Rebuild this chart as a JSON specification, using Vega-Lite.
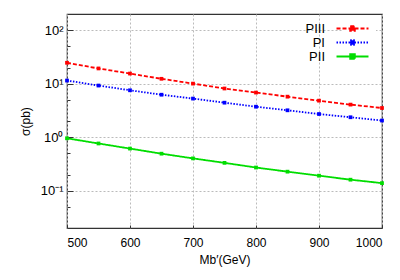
{
  "$schema": "https://vega.github.io/schema/vega-lite/v6.json",
  "autosize": "none",
  "width": 315,
  "height": 214,
  "padding": {"left": 67, "top": 14, "right": 18, "bottom": 52},
  "background": "white",
  "config": {
    "font": "Liberation Sans",
    "view": {"stroke": "#333333", "strokeWidth": 1.2},
    "axis": {"labelFont": "Liberation Sans", "titleFont": "Liberation Sans", "labelColor": "#000", "titleColor": "#000", "labelFontSize": 12, "titleFontSize": 12, "titleFontWeight": "normal", "domain": false},
    "legend": {"orient": "none", "legendX": 276, "legendY": 5, "symbolType": "M-5.33,0H5.33M-0.75,-0.75H0.75V0.75H-0.75Z", "symbolSize": 36, "symbolStrokeWidth": 2, "labelFontSize": 13, "labelAlign": "right", "labelOffset": -34, "rowPadding": -1, "labelFont": "Liberation Sans", "labelColor": "#000", "fillColor": "white", "padding": 3}
  },
  "data": {"values": [
    {"m": 500, "s": "PIII", "v": 24.5}, {"m": 550, "s": "PIII", "v": 19.2}, {"m": 600, "s": "PIII", "v": 15.4}, {"m": 650, "s": "PIII", "v": 12.3}, {"m": 700, "s": "PIII", "v": 10.0}, {"m": 750, "s": "PIII", "v": 8.1}, {"m": 800, "s": "PIII", "v": 6.8}, {"m": 850, "s": "PIII", "v": 5.7}, {"m": 900, "s": "PIII", "v": 4.8}, {"m": 950, "s": "PIII", "v": 4.05}, {"m": 1000, "s": "PIII", "v": 3.5},
    {"m": 500, "s": "PI", "v": 11.4}, {"m": 550, "s": "PI", "v": 9.2}, {"m": 600, "s": "PI", "v": 7.5}, {"m": 650, "s": "PI", "v": 6.2}, {"m": 700, "s": "PI", "v": 5.25}, {"m": 750, "s": "PI", "v": 4.4}, {"m": 800, "s": "PI", "v": 3.7}, {"m": 850, "s": "PI", "v": 3.17}, {"m": 900, "s": "PI", "v": 2.7}, {"m": 950, "s": "PI", "v": 2.35}, {"m": 1000, "s": "PI", "v": 2.04},
    {"m": 500, "s": "PII", "v": 0.95}, {"m": 550, "s": "PII", "v": 0.76}, {"m": 600, "s": "PII", "v": 0.61}, {"m": 650, "s": "PII", "v": 0.49}, {"m": 700, "s": "PII", "v": 0.40}, {"m": 750, "s": "PII", "v": 0.33}, {"m": 800, "s": "PII", "v": 0.27}, {"m": 850, "s": "PII", "v": 0.226}, {"m": 900, "s": "PII", "v": 0.19}, {"m": 950, "s": "PII", "v": 0.16}, {"m": 1000, "s": "PII", "v": 0.138}
  ]},
  "mark": {"type": "line", "strokeWidth": 1.8, "point": {"shape": "square", "size": 14, "filled": true}},
  "encoding": {
    "x": {"field": "m", "type": "quantitative", "scale": {"domain": [500, 1000], "nice": false, "zero": false},
      "axis": {"title": "Mb′(GeV)", "format": "d", "values": [500, 600, 700, 800, 900, 1000], "grid": true, "gridDash": [2, 2], "gridColor": "#bbbbbb", "tickSize": -3, "tickColor": "#333", "labelPadding": 12, "titlePadding": 6}},
    "y": {"field": "v", "type": "quantitative", "scale": {"type": "log", "domain": [0.02, 200], "nice": false},
      "axis": {"title": "σ(pb)", "values": [0.05, 0.1, 0.2, 0.5, 1, 2, 5, 10, 20, 50, 100],
        "labelExpr": "datum.value == 100 ? '10²' : datum.value == 10 ? '10¹' : datum.value == 1 ? '10⁰' : datum.value == 0.1 ? '10⁻¹' : ''",
        "grid": true, "gridDash": [2, 2], "gridColor": "#bbbbbb",
        "gridOpacity": {"condition": {"test": "indexof([0.1, 1, 10, 100], datum.value) >= 0", "value": 1}, "value": 0},
        "tickSize": {"condition": {"test": "indexof([0.1, 1, 10, 100], datum.value) >= 0", "value": -6}, "value": -3},
        "tickColor": "#333", "labelPadding": 10, "titlePadding": 8, "labelFontSize": 13}},
    "color": {"field": "s", "type": "nominal", "title": null, "scale": {"domain": ["PIII", "PI", "PII"], "range": ["#ff0000", "#0000ff", "#00dd00"]}},
    "strokeDash": {"field": "s", "type": "nominal", "title": null, "scale": {"domain": ["PIII", "PI", "PII"], "range": [[4, 2], [1.5, 1.5], [1, 0]]}}
  }
}
